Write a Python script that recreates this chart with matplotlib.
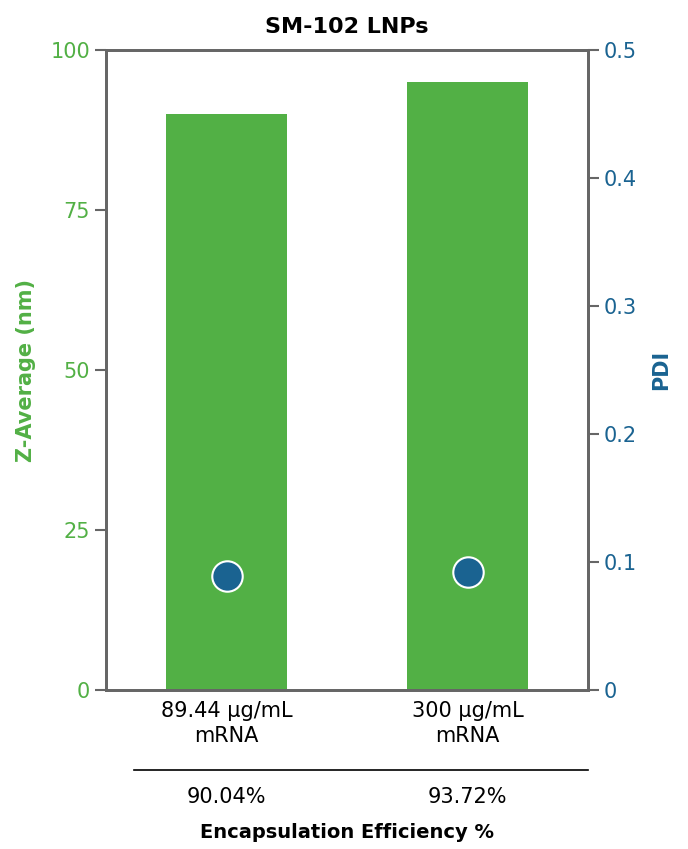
import matplotlib
matplotlib.use("Agg")
import matplotlib.pyplot as plt

categories = ["89.44 µg/mL\nmRNA", "300 µg/mL\nmRNA"]
z_average = [90, 95]
pdi = [0.089, 0.092]
efficiency = ["90.04%", "93.72%"]

green = "#52b045"
blue = "#1a6391"
gray = "#666666"

fig = plt.figure(figsize=(6.88, 8.49), dpi=100)
ax = fig.add_axes([106/688, 1-690/849, 482/688, 640/849])
x = list(range(len(categories)))
ax.bar(x, z_average, width=0.506, color=green, zorder=1)
ax.set_xlim(-0.5, 1.5)
ax.set_ylim(0, 100)
ax.set_yticks([0, 25, 50, 75, 100])
ax.set_xticks(x)
ax.set_xticklabels(categories, fontsize=15, linespacing=1.3)
ax.tick_params(axis='y', labelcolor=green, color=gray, labelsize=15, length=8, width=1.5)
ax.tick_params(axis='x', length=0, pad=8)
ax.set_ylabel("Z-Average (nm)", color=green, fontsize=15, fontweight='bold', labelpad=10)
ax.set_title("SM-102 LNPs", fontsize=16, fontweight='bold', pad=12)

ax2 = ax.twinx()
ax2.scatter(x, pdi, s=480, color=blue, edgecolor='white', linewidth=1.5, zorder=3)
ax2.set_ylim(0, 0.5)
ax2.set_yticks([0, 0.1, 0.2, 0.3, 0.4, 0.5])
ax2.set_yticklabels(["0", "0.1", "0.2", "0.3", "0.4", "0.5"])
ax2.tick_params(axis='y', labelcolor=blue, color=gray, labelsize=15, length=8, width=1.5)
ax2.set_ylabel("PDI", color=blue, fontsize=15, fontweight='bold', labelpad=10)

for a in (ax, ax2):
    for s in a.spines.values():
        s.set_color(gray)
        s.set_linewidth(2)

fig.add_artist(plt.Line2D([134/688, 588/688], [1-770/849, 1-770/849], color='black', lw=1.2))
for xi, e in zip(x, efficiency):
    ax.annotate(e, xy=(xi, 0), xycoords=('data', 'axes fraction'),
                xytext=(0, -77), textcoords='offset points', ha='center', va='center', fontsize=15)
fig.text(347/688, 1-832/849, "Encapsulation Efficiency %", ha='center', va='center',
         fontsize=14, fontweight='bold')

fig.savefig("out.png", dpi=100)
